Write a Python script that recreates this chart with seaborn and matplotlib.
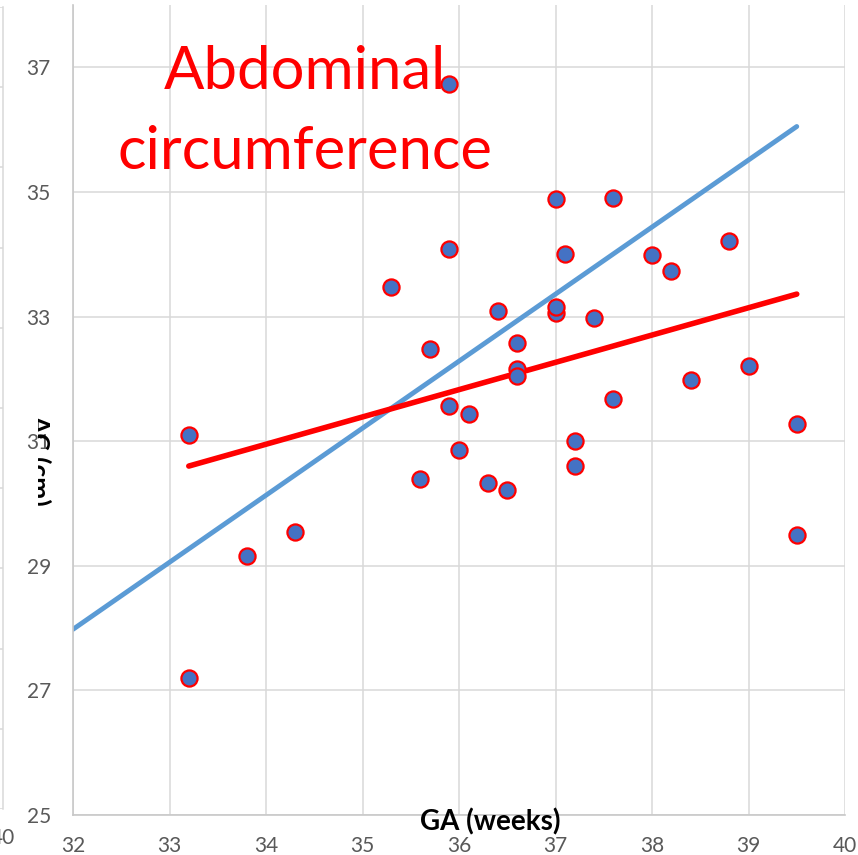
import numpy as np
import pandas as pd
import matplotlib
matplotlib.use("Agg")
import matplotlib.pyplot as plt
from matplotlib.transforms import Bbox, TransformedBbox, IdentityTransform
import seaborn as sns

# gestational age (weeks) and abdominal circumference (cm)
ga = [33.2, 33.2, 33.8, 34.3, 35.3, 35.6, 35.7, 35.9, 35.9, 35.9, 36.0, 36.1,
      36.3, 36.4, 36.5, 36.6, 36.6, 36.6, 37.0, 37.0, 37.0, 37.1, 37.2, 37.2,
      37.4, 37.6, 37.6, 38.0, 38.2, 38.4, 38.8, 39.0, 39.5, 39.5]
ac = [31.10, 27.20, 29.16, 29.54, 33.47, 30.39, 32.48, 36.73, 34.08, 31.56, 30.86, 31.43,
      30.33, 33.09, 30.21, 32.57, 32.16, 32.04, 34.88, 33.05, 33.15, 34.00, 31.00, 30.60,
      32.97, 34.90, 31.67, 33.98, 33.73, 31.98, 34.22, 32.20, 31.27, 29.49]

# trend lines (end points)
red_x = [33.2, 39.5]
red_y = [30.60, 33.36]
blue_x = [32.0, 39.5]
blue_y = [27.98, 36.05]

x_ticks = [32, 33, 34, 35, 36, 37, 38, 39, 40]
y_ticks = [25, 27, 29, 31, 33, 35, 37]

sns.set_style("white")
plt.rcParams['font.family'] = ['Lato', 'DejaVu Sans']

W, H = 858, 855
fig = plt.figure(figsize=(W / 100, H / 100), dpi=100)

grid_col = '#d9d9d9'
tick_col = '#595959'

# neighbouring chart cut off at the left edge
ax0 = fig.add_axes([-0.5, (H - 809) / H, 0.5 + 3 / W, (809 - 7) / H])
ax0.set_xlim(0, 40)
ax0.set_ylim(0, 10)
ax0.set_yticks(range(11))
ax0.set_yticklabels([])
ax0.set_xticks([40])
ax0.set_xticklabels(['40'], color=tick_col, fontsize=15)
ax0.tick_params(length=0, pad=14)
ax0.grid(axis='y', color=grid_col, lw=1.1)
for s in ['top', 'left', 'bottom']:
    ax0.spines[s].set_visible(False)
ax0.spines['right'].set_color(grid_col)
ax0.spines['right'].set_linewidth(1.1)

ax = fig.add_axes([73 / W, (H - 815) / H, (845 - 73) / W, (815 - 5) / H])

sns.lineplot(x=red_x, y=red_y, ax=ax, color='#ff0000', lw=4.0, sort=False, zorder=3)
sns.lineplot(x=blue_x, y=blue_y, ax=ax, color='#5b9bd5', lw=3.5, sort=False, zorder=2)
sns.scatterplot(x=ga, y=ac, ax=ax, s=135, color='#4472c4', edgecolor='#ff0000',
                linewidth=1.6, zorder=4, clip_on=False)

ax.set_xlim(32, 40)
ax.set_ylim(25, 38)
ax.set_xticks(x_ticks)
ax.set_yticks(y_ticks)
ax.tick_params(length=0, labelsize=15, labelcolor=tick_col)
ax.tick_params(axis='y', pad=16)
ax.tick_params(axis='x', pad=15)
ax.grid(True, color=grid_col, lw=1.1)
ax.set_axisbelow(True)
for s in ['top', 'right']:
    ax.spines[s].set_visible(False)
for s in ['left', 'bottom']:
    ax.spines[s].set_color('#c8c8c8')
    ax.spines[s].set_linewidth(1.2)
ax.set_xlabel('')
ax.set_ylabel('')

# axis titles as drawn in the original
fig.text(490 / W, 1 - 822 / H, 'GA (weeks)', ha='center', va='center',
         fontsize=20, fontweight='bold', color='black')
yl = fig.text(39 / W, 1 - 460 / H, 'AC (cm)', ha='center', va='center',
              rotation=270, fontsize=19, fontweight='bold', color='black')
yl.set_clip_box(TransformedBbox(Bbox([[38, 0], [W, H]]), IdentityTransform()))
yl.set_clip_on(True)
yl.set_zorder(0)

fig.text(305 / W, 1 - 112 / H, 'Abdominal\ncircumference', ha='center', va='center',
         fontsize=43, color='#ff0000', linespacing=1.6)

fig.savefig('out.png', dpi=100)
